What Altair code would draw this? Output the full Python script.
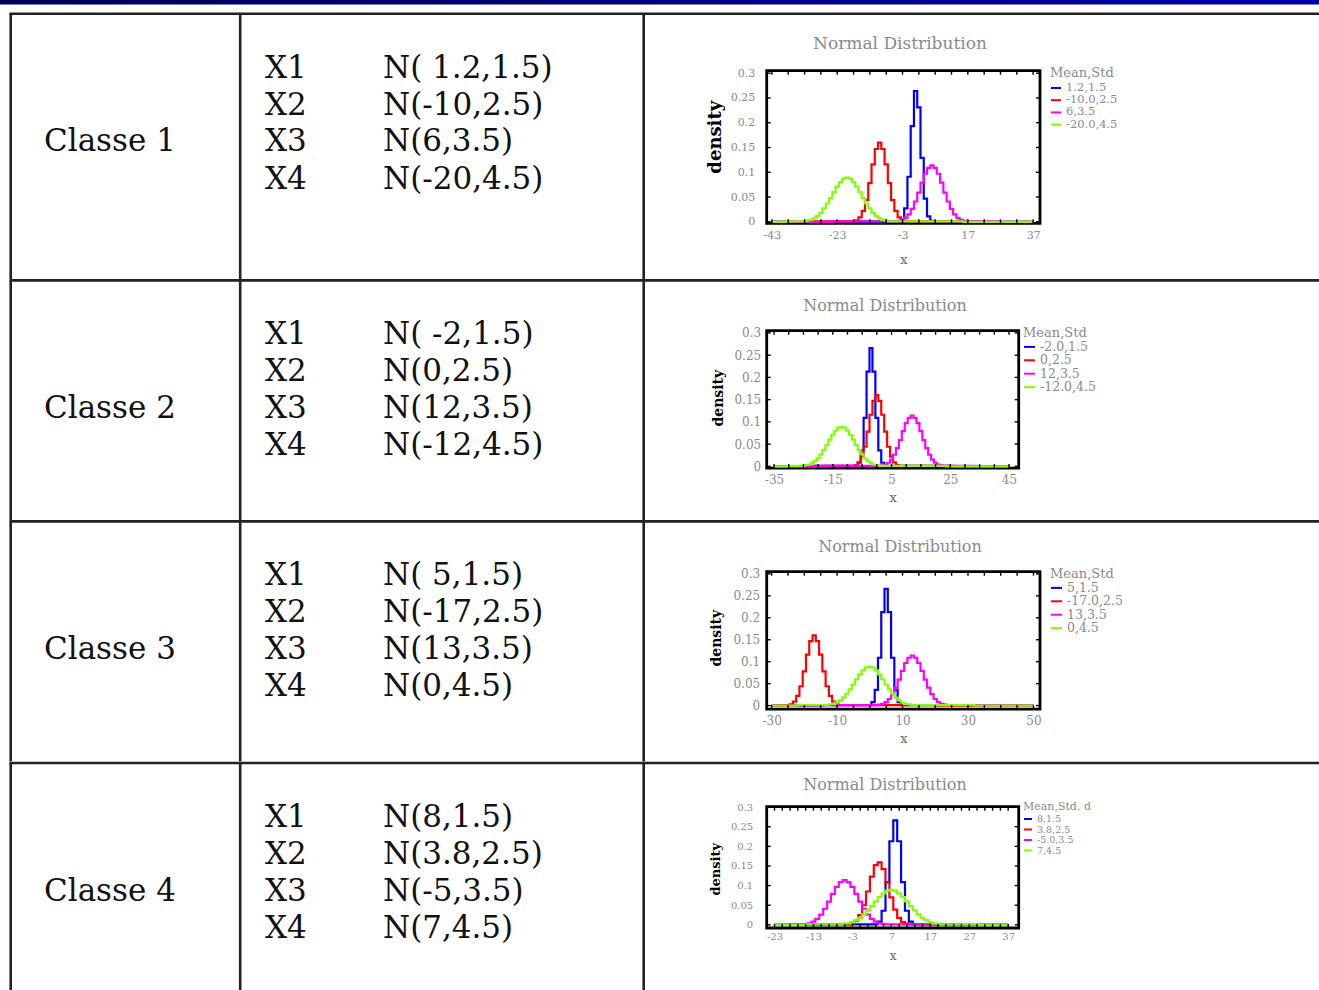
import altair as alt
import pandas as pd

# ---------------- values ----------------
CLASS_NAMES = ["Classe 1", "Classe 2", "Classe 3", "Classe 4"]
VAR_NAMES = ["X1", "X2", "X3", "X4"]
DISTRIBUTIONS = [
    ["N( 1.2,1.5)", "N(-10,2.5)", "N(6,3.5)", "N(-20,4.5)"],
    ["N( -2,1.5)", "N(0,2.5)", "N(12,3.5)", "N(-12,4.5)"],
    ["N( 5,1.5)", "N(-17,2.5)", "N(13,3.5)", "N(0,4.5)"],
    ["N(8,1.5)", "N(3.8,2.5)", "N(-5,3.5)", "N(7,4.5)"],
]
PLOT_TITLE = "Normal Distribution"
X_TITLE = "x"
Y_TITLE = "density"
LEGEND_TITLES = ["Mean,Std", "Mean,Std", "Mean,Std", "Mean,Std. d"]
SERIES_LABELS = [
    ["1.2,1.5", "-10.0,2.5", "6,3.5", "-20.0,4.5"],
    ["-2.0,1.5", "0,2.5", "12,3.5", "-12.0,4.5"],
    ["5,1.5", "-17.0,2.5", "13,3.5", "0,4.5"],
    ["8,1.5", "3.8,2.5", "-5.0,3.5", "7,4.5"],
]
SERIES_COLORS = ["#0000ff", "#ff0000", "#ff00ff", "#80ff00"]
X_TICK_LABELS = [
    [-43, -23, -3, 17, 37],
    [-35, -15, 5, 25, 45],
    [-30, -10, 10, 30, 50],
    [-23, -13, -3, 7, 17, 27, 37],
]
Y_TICK_LABELS = [0, 0.05, 0.1, 0.15, 0.2, 0.25, 0.3]

# ---- curves, row 1 ----
R1_BLUE_X = [-43, -4, -3, -2, -1, 0, 1, 2, 3, 4, 5, 6, 7, 37]
R1_BLUE_Y = [0, 0.001, 0.005, 0.027, 0.091, 0.193, 0.264, 0.231, 0.129, 0.047, 0.011, 0.002, 0, 0]
R1_RED_X = [-43, -18, -17, -16, -15, -14, -13, -12, -11, -10, -9, -8, -7, -6, -5, -4, -3, -2, 37]
R1_RED_Y = [0, 0.001, 0.003, 0.009, 0.022, 0.044, 0.078, 0.116, 0.147, 0.160, 0.147, 0.116, 0.078,
            0.044, 0.022, 0.009, 0.003, 0.001, 0]
R1_MAG_X = [-43, -5, -4, -3, -2, -1, 0, 1, 2, 3, 4, 5, 6, 7, 8, 9, 10, 11, 12, 13, 14, 15, 16, 17, 37]
R1_MAG_Y = [0, 0.001, 0.002, 0.004, 0.008, 0.015, 0.026, 0.041, 0.059, 0.079, 0.097, 0.109, 0.114,
            0.109, 0.097, 0.079, 0.059, 0.041, 0.026, 0.015, 0.008, 0.004, 0.002, 0.001, 0]
R1_GRN_X = [-43, -34, -33, -32, -31, -30, -29, -28, -27, -26, -25, -24, -23, -22, -21, -20, -19, -18,
            -17, -16, -15, -14, -13, -12, -11, -10, -9, -8, -7, -6, 37]
R1_GRN_Y = [0, 0.001, 0.001, 0.003, 0.004, 0.007, 0.012, 0.018, 0.027, 0.037, 0.048, 0.060, 0.071,
            0.080, 0.087, 0.089, 0.087, 0.080, 0.071, 0.060, 0.048, 0.037, 0.027, 0.018, 0.012, 0.007,
            0.004, 0.003, 0.001, 0.001, 0]
# ---- curves, row 2 ----
R2_BLUE_X = [-35, -7, -6, -5, -4, -3, -2, -1, 0, 1, 2, 3, 45]
R2_BLUE_Y = [0, 0.001, 0.008, 0.036, 0.109, 0.213, 0.266, 0.213, 0.109, 0.036, 0.008, 0.001, 0]
R2_RED_X = [-35, -8, -7, -6, -5, -4, -3, -2, -1, 0, 1, 2, 3, 4, 5, 6, 7, 8, 45]
R2_RED_Y = [0, 0.001, 0.003, 0.009, 0.022, 0.044, 0.078, 0.116, 0.147, 0.160, 0.147, 0.116, 0.078,
            0.044, 0.022, 0.009, 0.003, 0.001, 0]
R2_MAG_X = [-35, 1, 2, 3, 4, 5, 6, 7, 8, 9, 10, 11, 12, 13, 14, 15, 16, 17, 18, 19, 20, 21, 22, 23, 45]
R2_MAG_Y = [0, 0.001, 0.002, 0.004, 0.008, 0.015, 0.026, 0.041, 0.059, 0.079, 0.097, 0.109, 0.114,
            0.109, 0.097, 0.079, 0.059, 0.041, 0.026, 0.015, 0.008, 0.004, 0.002, 0.001, 0]
R2_GRN_X = [-35, -26, -25, -24, -23, -22, -21, -20, -19, -18, -17, -16, -15, -14, -13, -12, -11, -10,
            -9, -8, -7, -6, -5, -4, -3, -2, -1, 0, 1, 2, 45]
R2_GRN_Y = [0, 0.001, 0.001, 0.003, 0.004, 0.007, 0.012, 0.018, 0.027, 0.037, 0.048, 0.060, 0.071,
            0.080, 0.087, 0.089, 0.087, 0.080, 0.071, 0.060, 0.048, 0.037, 0.027, 0.018, 0.012, 0.007,
            0.004, 0.003, 0.001, 0.001, 0]
# ---- curves, row 3 ----
R3_BLUE_X = [-30, 0, 1, 2, 3, 4, 5, 6, 7, 8, 9, 10, 50]
R3_BLUE_Y = [0, 0.001, 0.008, 0.036, 0.109, 0.213, 0.266, 0.213, 0.109, 0.036, 0.008, 0.001, 0]
R3_RED_X = [-30, -25, -24, -23, -22, -21, -20, -19, -18, -17, -16, -15, -14, -13, -12, -11, -10, -9, 50]
R3_RED_Y = [0, 0.001, 0.003, 0.009, 0.022, 0.044, 0.078, 0.116, 0.147, 0.160, 0.147, 0.116, 0.078,
            0.044, 0.022, 0.009, 0.003, 0.001, 0]
R3_MAG_X = [-30, 2, 3, 4, 5, 6, 7, 8, 9, 10, 11, 12, 13, 14, 15, 16, 17, 18, 19, 20, 21, 22, 23, 24, 50]
R3_MAG_Y = [0, 0.001, 0.002, 0.004, 0.008, 0.015, 0.026, 0.041, 0.059, 0.079, 0.097, 0.109, 0.114,
            0.109, 0.097, 0.079, 0.059, 0.041, 0.026, 0.015, 0.008, 0.004, 0.002, 0.001, 0]
R3_GRN_X = [-30, -14, -13, -12, -11, -10, -9, -8, -7, -6, -5, -4, -3, -2, -1, 0, 1, 2, 3, 4, 5, 6, 7,
            8, 9, 10, 11, 12, 13, 14, 50]
R3_GRN_Y = [0, 0.001, 0.001, 0.003, 0.004, 0.007, 0.012, 0.018, 0.027, 0.037, 0.048, 0.060, 0.071,
            0.080, 0.087, 0.089, 0.087, 0.080, 0.071, 0.060, 0.048, 0.037, 0.027, 0.018, 0.012, 0.007,
            0.004, 0.003, 0.001, 0.001, 0]
# ---- curves, row 4 ----
R4_BLUE_X = [-23, 3, 4, 5, 6, 7, 8, 9, 10, 11, 12, 13, 37]
R4_BLUE_Y = [0, 0.001, 0.008, 0.036, 0.109, 0.213, 0.266, 0.213, 0.109, 0.036, 0.008, 0.001, 0]
R4_RED_X = [-23, -4, -3, -2, -1, 0, 1, 2, 3, 4, 5, 6, 7, 8, 9, 10, 11, 12, 37]
R4_RED_Y = [0, 0.001, 0.004, 0.011, 0.025, 0.050, 0.085, 0.123, 0.152, 0.159, 0.142, 0.108, 0.070,
            0.039, 0.018, 0.007, 0.003, 0.001, 0]
R4_MAG_X = [-23, -16, -15, -14, -13, -12, -11, -10, -9, -8, -7, -6, -5, -4, -3, -2, -1, 0, 1, 2, 3,
            4, 5, 6, 37]
R4_MAG_Y = [0, 0.001, 0.002, 0.004, 0.008, 0.015, 0.026, 0.041, 0.059, 0.079, 0.097, 0.109, 0.114,
            0.109, 0.097, 0.079, 0.059, 0.041, 0.026, 0.015, 0.008, 0.004, 0.002, 0.001, 0]
R4_GRN_X = [-23, -7, -6, -5, -4, -3, -2, -1, 0, 1, 2, 3, 4, 5, 6, 7, 8, 9, 10, 11, 12, 13, 14, 15,
            16, 17, 18, 19, 20, 21, 37]
R4_GRN_Y = [0, 0.001, 0.001, 0.003, 0.004, 0.007, 0.012, 0.018, 0.027, 0.037, 0.048, 0.060, 0.071,
            0.080, 0.087, 0.089, 0.087, 0.080, 0.071, 0.060, 0.048, 0.037, 0.027, 0.018, 0.012, 0.007,
            0.004, 0.003, 0.001, 0.001, 0]

CURVES = [
    [(R1_BLUE_X, R1_BLUE_Y), (R1_RED_X, R1_RED_Y), (R1_MAG_X, R1_MAG_Y), (R1_GRN_X, R1_GRN_Y)],
    [(R2_BLUE_X, R2_BLUE_Y), (R2_RED_X, R2_RED_Y), (R2_MAG_X, R2_MAG_Y), (R2_GRN_X, R2_GRN_Y)],
    [(R3_BLUE_X, R3_BLUE_Y), (R3_RED_X, R3_RED_Y), (R3_MAG_X, R3_MAG_Y), (R3_GRN_X, R3_GRN_Y)],
    [(R4_BLUE_X, R4_BLUE_Y), (R4_RED_X, R4_RED_Y), (R4_MAG_X, R4_MAG_Y), (R4_GRN_X, R4_GRN_Y)],
]

# ---------------- layout / style (page pixels) ----------------
SERIF = "DejaVu Serif"
GRAY = "#8a8a8a"
PAGE_W, PAGE_H = 1319, 990
PLOT_LEFT = 766.7
PLOT_TOP = [70.7, 329.3, 569.3, 802.7]
PLOT_W = [273.3, 252.0, 273.3, 252.0]
PLOT_H = [152.6, 137.4, 137.4, 121.3]
X_DOMAIN = [[-44.6, 39.1], [-37.5, 48.3], [-31.5, 52.0], [-25.0, 39.7]]
Y_DOMAIN = [[-0.003, 0.305], [-0.004, 0.305], [-0.008, 0.305], [-0.008, 0.301]]
MINOR_STEP = [5, 5, 5, 2]
TABLE_ROW_Y = [13.8, 279.0, 519.0, 759.0, 990.0]
TABLE_COL_X = [10.7, 240.2, 643.7]
TABLE_RIGHT = 1319
TITLE_POS = [(900, 44), (885, 305), (900, 545), (885, 781)]
LEGEND_POS = [(1050, 67), (1023, 326), (1050, 566), (1023, 797)]
STYLE = [
    dict(xl=11, xlp=6, xt=13, xtp=13, yl=11, ylp=12, yt=18, ytp=6, yty=66, tt=17,
         lt=13, ll=11.5, ls=100, lr=0.2, ltp=2),
    dict(xl=12, xlp=6, xt=13, xtp=6, yl=12, ylp=6, yt=14, ytp=8, yty=67, tt=16,
         lt=13, ll=12.5, ls=121, lr=0.4, ltp=0),
    dict(xl=12, xlp=6, xt=13, xtp=6, yl=12, ylp=7, yt=14, ytp=9, yty=66, tt=16,
         lt=13, ll=12.5, ls=121, lr=0.4, ltp=0),
    dict(xl=10, xlp=3, xt=12, xtp=9, yl=10, ylp=14, yt=13, ytp=8, yty=62, tt=16,
         lt=11, ll=9.5, ls=64, lr=0.5, ltp=2),
]


def px(field):
    return alt.X(field, type="quantitative", scale=None, axis=None)


def py(field):
    return alt.Y(field, type="quantitative", scale=None, axis=None)


def build_row(k):
    W, H = PLOT_W[k], PLOT_H[k]
    ox, oy = PLOT_LEFT, PLOT_TOP[k]
    st = STYLE[k]

    recs = []
    for label, (xs, ys) in zip(SERIES_LABELS[k], CURVES[k]):
        for xv, yv in zip(xs, ys):
            recs.append({"x": xv, "density": yv, "series": label})
    curves = pd.DataFrame(recs)

    xenc = alt.X("x:Q",
                 scale=alt.Scale(domain=X_DOMAIN[k], nice=False, zero=False),
                 axis=alt.Axis(values=X_TICK_LABELS[k], title=X_TITLE, ticks=False, tickSize=0,
                               domain=False, grid=False, labelExpr="'' + datum.value",
                               labelFont=SERIF, labelFontSize=st["xl"], labelColor=GRAY,
                               labelPadding=st["xlp"], labelFlush=False, labelOverlap=False,
                               titleFont=SERIF, titleFontSize=st["xt"], titleColor="#666666",
                               titleFontWeight="normal", titlePadding=st["xtp"]))
    yenc = alt.Y("density:Q",
                 scale=alt.Scale(domain=Y_DOMAIN[k], nice=False, zero=False),
                 axis=alt.Axis(values=Y_TICK_LABELS, title=Y_TITLE, ticks=False, tickSize=0,
                               domain=False, grid=False, labelExpr="'' + datum.value",
                               labelFont=SERIF, labelFontSize=st["yl"], labelColor=GRAY,
                               labelPadding=st["ylp"], labelOverlap=False, labelFlush=False,
                               titleFont=SERIF, titleFontSize=st["yt"], titleColor="#000000",
                               titleFontWeight="bold", titlePadding=st["ytp"], titleY=st["yty"]))
    color = alt.Color("series:N",
                      scale=alt.Scale(domain=SERIES_LABELS[k], range=SERIES_COLORS),
                      legend=alt.Legend(orient="none", legendX=LEGEND_POS[k][0] - ox,
                                        legendY=LEGEND_POS[k][1] - oy, padding=0,
                                        title=LEGEND_TITLES[k], titleFont=SERIF,
                                        titleFontSize=st["lt"], titleColor=GRAY,
                                        titleFontWeight="normal", titlePadding=st["ltp"],
                                        labelFont=SERIF, labelFontSize=st["ll"], labelColor=GRAY,
                                        symbolType="stroke", symbolStrokeWidth=2,
                                        symbolSize=st["ls"], rowPadding=st["lr"], labelOffset=4))

    layers = []
    if k == 0:
        bar = pd.DataFrame({"x1": [0 - ox], "x2": [PAGE_W - ox], "y1": [0 - oy], "y2": [4.5 - oy]})
        layers.append(
            alt.Chart(bar).mark_rect(color=alt.LinearGradient(
                gradient="linear", x1=0, x2=1, y1=0, y2=0,
                stops=[alt.GradientStop(color="#000058", offset=0),
                       alt.GradientStop(color="#0000a8", offset=1)]))
            .encode(x=px("x1"), x2="x2", y=py("y1"), y2="y2"))

    # table borders of this row
    y_top, y_bot = TABLE_ROW_Y[k], TABLE_ROW_Y[k + 1]
    lines = {"x1": [TABLE_COL_X[0] - 1.2 - ox], "x2": [TABLE_RIGHT - ox],
             "y1": [y_top - oy], "y2": [y_top - oy]}
    for cx in TABLE_COL_X:
        lines["x1"].append(cx - ox)
        lines["x2"].append(cx - ox)
        lines["y1"].append(y_top - oy)
        lines["y2"].append(y_bot - oy)
    layers.append(alt.Chart(pd.DataFrame(lines)).mark_rule(color="#222222", strokeWidth=2.6)
                  .encode(x=px("x1"), x2="x2", y=py("y1"), y2="y2"))

    # table text of this row
    tx, ty, tt = [44 - ox], [y_top + 128.5 - oy], [CLASS_NAMES[k]]
    for i, dy in enumerate([55, 92, 128.5, 166]):
        tx += [265 - ox, 383 - ox]
        ty += [y_top + dy - oy, y_top + dy - oy]
        tt += [VAR_NAMES[i], DISTRIBUTIONS[k][i]]
    layers.append(alt.Chart(pd.DataFrame({"px": tx, "py": ty, "t": tt}))
                  .mark_text(align="left", baseline="middle", font=SERIF, fontSize=31, color="#111111")
                  .encode(x=px("px"), y=py("py"), text="t:N"))

    # curves (blue, red, magenta, green; green on top)
    for label in SERIES_LABELS[k]:
        layers.append(alt.Chart(curves).transform_filter(alt.datum.series == label)
                      .mark_line(interpolate="step", strokeWidth=2.2)
                      .encode(x=xenc, y=yenc, color=color))

    # inward tick marks on the frame
    lo, hi = X_TICK_LABELS[k][0], X_TICK_LABELS[k][-1]
    minor = pd.DataFrame({"x": list(range(lo, hi + 1, MINOR_STEP[k]))})
    ymin = pd.DataFrame({"density": Y_TICK_LABELS})
    tick = dict(color="black", strokeWidth=1.4)
    layers.append(alt.Chart(minor).mark_rule(**tick)
                  .encode(x=xenc, y=alt.value(H), y2=alt.value(H - 4)))
    layers.append(alt.Chart(minor).mark_rule(**tick)
                  .encode(x=xenc, y=alt.value(0), y2=alt.value(4)))
    layers.append(alt.Chart(ymin).mark_rule(**tick)
                  .encode(y=yenc, x=alt.value(0), x2=alt.value(4)))
    layers.append(alt.Chart(ymin).mark_rule(**tick)
                  .encode(y=yenc, x=alt.value(W), x2=alt.value(W - 4)))

    # chart title
    ttl = pd.DataFrame({"px": [TITLE_POS[k][0] - ox], "py": [TITLE_POS[k][1] - oy], "t": [PLOT_TITLE]})
    layers.append(alt.Chart(ttl).mark_text(align="center", baseline="middle", font=SERIF,
                                           fontSize=st["tt"], color=GRAY)
                  .encode(x=px("px"), y=py("py"), text="t:N"))

    return alt.layer(*layers).properties(
        width=W, height=H, view=alt.ViewBackground(stroke="black", strokeWidth=2.8))


def spacer(h):
    return alt.Chart(pd.DataFrame({"v": [0]})).mark_point(opacity=0).properties(
        width=1, height=h, view=alt.ViewBackground(strokeWidth=0))


items = []
for k in range(4):
    items.append(build_row(k))
    if k < 3:
        items.append(spacer(PLOT_TOP[k + 1] - PLOT_TOP[k] - PLOT_H[k]))

chart = (alt.vconcat(*items, spacing=0, bounds="flush")
         .resolve_scale(x="independent", y="independent", color="independent")
         .resolve_legend(color="independent")
         .properties(autosize=alt.AutoSizeParams(type="none"),
                     padding={"left": PLOT_LEFT, "top": PLOT_TOP[0],
                              "right": PAGE_W - PLOT_LEFT, "bottom": PAGE_H - PLOT_TOP[0]},
                     background="white")
         .configure_view(strokeWidth=0))

chart.save("out.html", embed_options={"renderer": "svg", "actions": False})
